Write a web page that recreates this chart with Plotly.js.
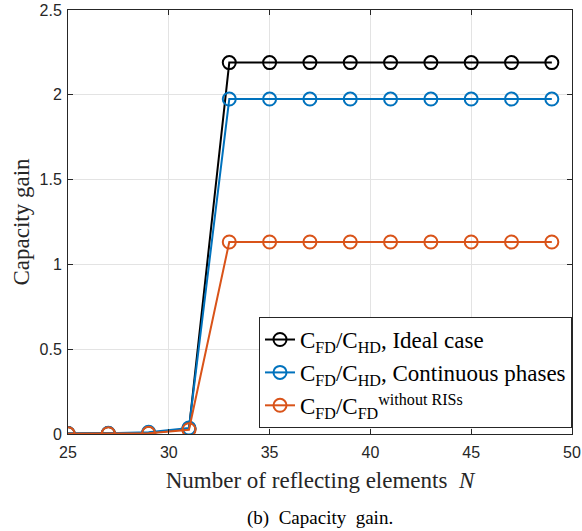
<!DOCTYPE html>
<html>
<head>
<meta charset="utf-8">
<script src="https://cdn.plot.ly/plotly-3.0.1.min.js"></script>
<style>html,body{margin:0;padding:0;background:#fff;}#chart{width:582px;height:531px;}</style>
</head>
<body>
<div id="chart"></div>
<script>
const N = [25, 27, 29, 31, 33, 35, 37, 39, 41, 43, 45, 47, 49];
const ideal = [0.003, 0.003, 0.006, 0.03, 2.19, 2.19, 2.19, 2.19, 2.19, 2.19, 2.19, 2.19, 2.19];
const continuous = [0.003, 0.004, 0.01, 0.035, 1.975, 1.975, 1.975, 1.975, 1.975, 1.975, 1.975, 1.975, 1.975];
const withoutRIS = [0.002, 0.002, 0.004, 0.025, 1.132, 1.132, 1.132, 1.132, 1.132, 1.132, 1.132, 1.132, 1.132];
const names = [
  'C<sub>FD</sub>/C<sub>HD</sub>, Ideal case',
  'C<sub>FD</sub>/C<sub>HD</sub>, Continuous phases',
  'C<sub>FD</sub>/C<sub>FD</sub><sup>without RISs</sup>'
];
const colors = ['#000000', '#0072BD', '#D95319'];
const series = [ideal, continuous, withoutRIS];
const xTicks = [25, 30, 35, 40, 45, 50];
const yTicks = [0, 0.5, 1, 1.5, 2, 2.5];

const traces = series.map((s, i) => ({
  x: N, y: s, name: names[i], type: 'scatter', mode: 'lines+markers',
  line: {color: colors[i], width: 2},
  marker: {symbol: 'circle-open', size: 13, color: colors[i], line: {width: 2, color: colors[i]}}
}));

const serif = 'Liberation Serif, Times New Roman, serif';
const sans = 'Liberation Sans, Arial, sans-serif';
const layout = {
  width: 582, height: 531,
  margin: {l: 68, r: 10, t: 10, b: 97},
  paper_bgcolor: '#fff', plot_bgcolor: '#fff',
  showlegend: true,
  xaxis: {
    range: [25, 50], tickvals: xTicks, ticktext: xTicks.map(String),
    showgrid: true, gridcolor: '#e3e3e3', gridwidth: 1,
    zeroline: false, showline: true, linecolor: '#262626', linewidth: 1, mirror: 'ticks',
    ticks: 'inside', ticklen: 5, tickcolor: '#262626', ticklabelstandoff: 4,
    tickfont: {family: sans, size: 16, color: '#262626'},
    title: {text: 'Number of reflecting elements  <i>N</i>', font: {family: serif, size: 23, color: '#262626'}, standoff: 11}
  },
  yaxis: {
    range: [0, 2.5], tickvals: yTicks, ticktext: ['0', '0.5', '1', '1.5', '2', '2.5'],
    showgrid: true, gridcolor: '#e3e3e3', gridwidth: 1,
    zeroline: false, showline: true, linecolor: '#262626', linewidth: 1, mirror: 'ticks',
    ticks: 'inside', ticklen: 5, tickcolor: '#262626', ticklabelstandoff: 2,
    tickfont: {family: sans, size: 16, color: '#262626'},
    title: {text: 'Capacity gain', font: {family: serif, size: 23, color: '#262626'}, standoff: 3}
  },
  legend: {
    x: 1, xanchor: 'right', y: 0.014, yanchor: 'bottom',
    bgcolor: '#fff', bordercolor: '#262626', borderwidth: 1,
    font: {family: serif, size: 23, color: '#000'},
    tracegroupgap: 0
  },
  annotations: [{
    text: '(b)  Capacity  gain.', xref: 'paper', yref: 'paper',
    x: 0.5, y: -0.198, xanchor: 'center', yanchor: 'middle', showarrow: false,
    font: {family: serif, size: 19, color: '#000'}
  }]
};
Plotly.newPlot('chart', traces, layout, {staticPlot: true, displayModeBar: false});
</script>
</body>
</html>
